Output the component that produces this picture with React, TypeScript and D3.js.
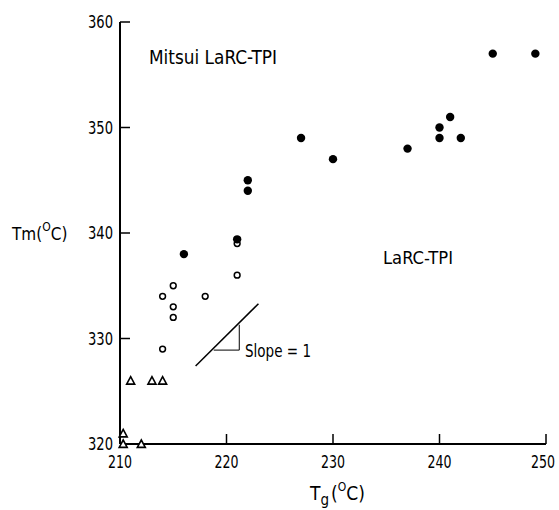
import React from "react";
import * as d3 from "d3";

const xTicks = [210, 220, 230, 240, 250];
const yTicks = [320, 330, 340, 350, 360];

// filled circles
const filledTg = [216, 221, 222, 222, 227, 230, 237, 240, 240, 241, 242, 245, 249];
const filledTm = [338, 339.4, 345, 344, 349, 347, 348, 350, 349, 351, 349, 357, 357];

// open circles
const openTg = [221, 221, 215, 214, 218, 215, 215, 214];
const openTm = [339, 336, 335, 334, 334, 333, 332, 329];

// triangles
const triTg = [210.3, 210.3, 212, 211, 213, 214];
const triTm = [321, 320, 320, 326, 326, 326];

// slope = 1 guide (data units)
const slopeLineTg = [217.1, 223];
const slopeLineTm = [327.4, 333.3];
const slopeTriTg = [218.8, 221.2, 221.2];
const slopeTriTm = [328.9, 328.9, 331.3];

const FONT = "'DejaVu Sans Condensed', 'Liberation Sans Narrow', 'DejaVu Sans', sans-serif";

export default function App() {
  const W = 559, H = 510;
  const x = d3.scaleLinear().domain([210, 250]).range([120, 546]);
  const y = d3.scaleLinear().domain([320, 360]).range([444, 22]);

  const triPath = (cx: number, cy: number) => {
    const s = 4;
    return `M${cx},${cy - s}L${cx + s},${cy + s * 0.85}L${cx - s},${cy + s * 0.85}Z`;
  };

  const line = d3.line<[number, number]>().x(d => x(d[0])).y(d => y(d[1]));

  return (
    <svg width={W} height={H} style={{ position: "absolute", left: 0, top: 0, background: "#fff" }}
      fontFamily={FONT} fontStretch="condensed">
      <rect width={W} height={H} fill="#fff" />
      {/* axes */}
      <line x1={x(210)} x2={x(250)} y1={y(320)} y2={y(320)} stroke="#000" strokeWidth={2} />
      <line x1={x(210)} x2={x(210)} y1={y(320)} y2={y(360)} stroke="#000" strokeWidth={2} />
      {xTicks.map((t, i) => {
        const last = i === xTicks.length - 1;
        return (
          <g key={"x" + t}>
            <line x1={x(t)} x2={x(t)} y1={y(320)} y2={y(320) - 10} stroke="#000" strokeWidth={1.5} />
            <text x={last ? W - 4 : x(t)} y={y(320) + 24} fontSize={17}
              textAnchor={last ? "end" : "middle"} textLength={24} lengthAdjust="spacingAndGlyphs">{t}</text>
          </g>
        );
      })}
      {yTicks.map(t => (
        <g key={"y" + t}>
          <line x1={x(210)} x2={x(210) + 10} y1={y(t)} y2={y(t)} stroke="#000" strokeWidth={1.5} />
          <text x={x(210) - 7} y={y(t) + 6} fontSize={18} textAnchor="end" textLength={25} lengthAdjust="spacingAndGlyphs">{t}</text>
        </g>
      ))}

      {/* axis titles */}
      <text x={310} y={500} fontSize={19}>
        T<tspan dy={5} fontSize={15}>g</tspan>
        <tspan dy={-5} dx={2}>(</tspan>
        <tspan dy={-9} fontSize={12}>O</tspan>
        <tspan dy={9}>C)</tspan>
      </text>
      <text x={12} y={240} fontSize={17}>
        Tm(<tspan dy={-9} fontSize={12}>O</tspan>
        <tspan dy={9}>C)</tspan>
      </text>

      {/* annotations */}
      <text x={149} y={64} fontSize={19} textLength={128} lengthAdjust="spacingAndGlyphs">Mitsui LaRC-TPI</text>
      <text x={383} y={264} fontSize={18} textLength={70} lengthAdjust="spacingAndGlyphs">LaRC-TPI</text>
      <text x={245} y={357} fontSize={18} textLength={66} lengthAdjust="spacingAndGlyphs">Slope = 1</text>

      {/* slope guide */}
      <path d={line(slopeLineTg.map((t, i) => [t, slopeLineTm[i]]) as [number, number][]) || ""}
        fill="none" stroke="#000" strokeWidth={1.5} />
      <path d={line(slopeTriTg.map((t, i) => [t, slopeTriTm[i]]) as [number, number][]) || ""}
        fill="none" stroke="#000" strokeWidth={1} />

      {/* data */}
      {triTg.map((t, i) => (
        <path key={"t" + i} d={triPath(x(t), y(triTm[i]))} fill="#fff" stroke="#000" strokeWidth={1.6} />
      ))}
      {openTg.map((t, i) => (
        <circle key={"o" + i} cx={x(t)} cy={y(openTm[i])} r={2.9} fill="#fff" stroke="#000" strokeWidth={1.5} />
      ))}
      {filledTg.map((t, i) => (
        <circle key={"f" + i} cx={x(t)} cy={y(filledTm[i])} r={4.2} fill="#000" />
      ))}
    </svg>
  );
}
